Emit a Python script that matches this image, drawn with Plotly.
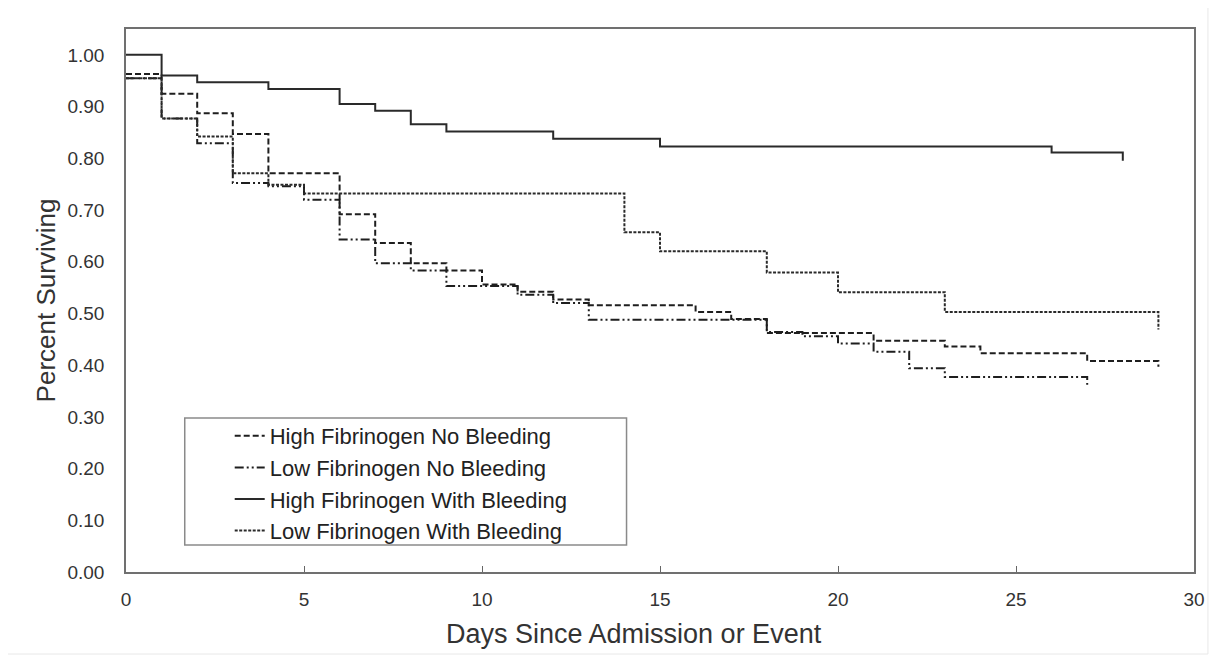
import plotly.graph_objects as go

# ---- data (day of step, survival after step) ----
hfnb_days = [0, 1, 2, 3, 4, 6, 7, 8, 9, 10, 11, 12, 13, 16, 17, 18, 21, 23, 24, 27, 29]
hfnb_surv = [0.963, 0.925, 0.887, 0.847, 0.771, 0.692, 0.636, 0.597, 0.583, 0.556, 0.542,
             0.527, 0.516, 0.503, 0.489, 0.462, 0.447, 0.436, 0.423, 0.408, 0.397]

lfnb_days = [0, 1, 2, 3, 4, 5, 6, 7, 8, 9, 11, 12, 13, 18, 19, 20, 21, 22, 23, 27]
lfnb_surv = [0.955, 0.877, 0.829, 0.752, 0.746, 0.720, 0.643, 0.597, 0.583, 0.553, 0.536,
             0.520, 0.488, 0.464, 0.456, 0.442, 0.426, 0.394, 0.377, 0.362]

hfwb_days = [0, 1, 2, 4, 6, 7, 8, 9, 12, 15, 26, 28]
hfwb_surv = [1.000, 0.960, 0.947, 0.934, 0.905, 0.892, 0.866, 0.852, 0.838, 0.823, 0.811, 0.795]

lfwb_days = [0, 1, 2, 3, 4, 5, 14, 15, 18, 20, 23, 29]
lfwb_surv = [0.955, 0.877, 0.842, 0.771, 0.749, 0.732, 0.657, 0.620, 0.579, 0.541, 0.503, 0.469]

names = ["High Fibrinogen No Bleeding", "Low Fibrinogen No Bleeding",
         "High Fibrinogen With Bleeding", "Low Fibrinogen With Bleeding"]

x_ticks = [0, 5, 10, 15, 20, 25, 30]
y_ticks = [0.0, 0.1, 0.2, 0.3, 0.4, 0.5, 0.6, 0.7, 0.8, 0.9, 1.0]

x_title = "Days Since Admission or Event"
y_title = "Percent Surviving"

FONT = "Liberation Sans, Arial, sans-serif"

fig = go.Figure()
series = [
    (hfnb_days, hfnb_surv, names[0], "6px,3px", "#1e1e1e", 2),
    (lfnb_days, lfnb_surv, names[1], "9px,3px,2px,3px,2px,3px", "#1e1e1e", 2),
    (hfwb_days, hfwb_surv, names[2], "solid", "#2a2a2a", 2),
    (lfwb_days, lfwb_surv, names[3], "3px,1.5px", "#2a2a2a", 2),
]
for i, (xd, yd, nm, dash, col, w) in enumerate(series):
    fig.add_trace(go.Scatter(
        x=xd, y=yd, name=nm, mode="lines", line_shape="hv",
        line=dict(color=col, width=w, dash=dash),
        legendgroup=f"g{i}", hoverinfo="skip"))

# legend box
fig.add_shape(type="rect", xref="x", yref="y",
              x0=1.65, x1=14.06, y0=0.052, y1=0.298,
              line=dict(color="#8a8a8a", width=1.5), fillcolor="white", layer="below")
# faint outer picture border
fig.add_shape(type="rect", xref="paper", yref="paper",
              x0=-120 / 1071, x1=1085 / 1071, y0=-82 / 543, y1=565 / 543,
              line=dict(color="#e8e8e8", width=1))

# x axis title (sits a bit left of centre in the reference)
fig.add_annotation(text=x_title, xref="paper", yref="paper",
                   x=(635 - 126) / 1071, y=(572 - 634) / 543,
                   xanchor="center", yanchor="middle", showarrow=False,
                   font=dict(family=FONT, size=27, color="#333333"))

fig.update_layout(
    width=1209, height=649,
    margin=dict(l=118, r=20, t=21, b=85),
    paper_bgcolor="white", plot_bgcolor="white",
    font=dict(family=FONT, color="#333333", size=19),
    showlegend=True,
    legend=dict(x=(230 - 126) / 1071, y=(572 - 415) / 543, xanchor="left", yanchor="top",
                bgcolor="rgba(0,0,0,0)", borderwidth=0, tracegroupgap=0,
                font=dict(family=FONT, size=22, color="#222222"),
                itemwidth=30),
    xaxis=dict(range=[0, 30], tickvals=x_ticks, ticks="inside", ticklen=6,
               tickcolor="#666666", showgrid=False, zeroline=False,
               showline=True, linecolor="#707070", linewidth=1.5, mirror=True,
               ticklabelstandoff=9, tickfont=dict(size=19)),
    yaxis=dict(range=[0, 1.05], tickvals=y_ticks, tickformat=".2f", ticks="",
               showgrid=False, zeroline=False,
               showline=True, linecolor="#707070", linewidth=1.5, mirror=True,
               ticklabelstandoff=16, tickfont=dict(size=19),
               title=dict(text=y_title, font=dict(size=26, color="#333333"),
                          standoff=4)),
)

fig.write_html("out.html")
